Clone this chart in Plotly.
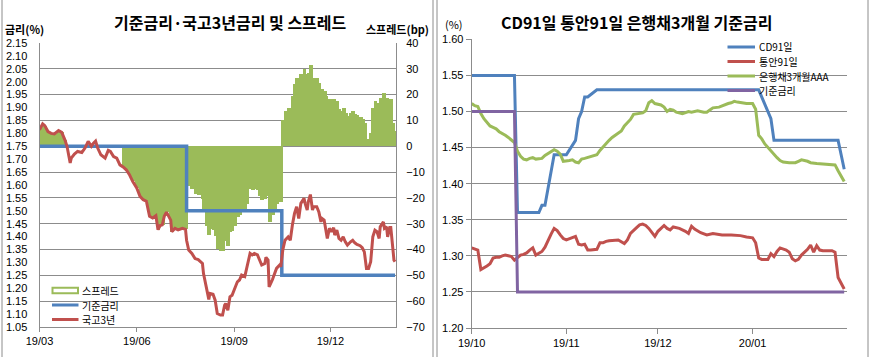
import plotly.graph_objects as go

# ---------------- Left panel data ----------------
ktb_dates = [
    "2019-03-01", "2019-03-04", "2019-03-06", "2019-03-09", "2019-03-12", "2019-03-15", "2019-03-19", "2019-03-22", "2019-03-25", "2019-03-27",
    "2019-03-30", "2019-03-31", "2019-04-03", "2019-04-06", "2019-04-10", "2019-04-13", "2019-04-16", "2019-04-19", "2019-04-21", "2019-04-23",
    "2019-04-25", "2019-04-28", "2019-05-02", "2019-05-05", "2019-05-07", "2019-05-10", "2019-05-13", "2019-05-16", "2019-05-19", "2019-05-22",
    "2019-05-25", "2019-05-28", "2019-06-01", "2019-06-04", "2019-06-07", "2019-06-10", "2019-06-13", "2019-06-16", "2019-06-19", "2019-06-21",
    "2019-06-23", "2019-06-25", "2019-06-27", "2019-06-29", "2019-07-03", "2019-07-04", "2019-07-07", "2019-07-10", "2019-07-14", "2019-07-17",
    "2019-07-18", "2019-07-20", "2019-07-23", "2019-07-26", "2019-07-29", "2019-08-02", "2019-08-03", "2019-08-06", "2019-08-08", "2019-08-09",
    "2019-08-12", "2019-08-14", "2019-08-16", "2019-08-19", "2019-08-21", "2019-08-23", "2019-08-24", "2019-08-26", "2019-08-28", "2019-08-30",
    "2019-09-01", "2019-09-04", "2019-09-06", "2019-09-08", "2019-09-11", "2019-09-13", "2019-09-16", "2019-09-18", "2019-09-20", "2019-09-23",
    "2019-09-25", "2019-09-27", "2019-09-30", "2019-10-01", "2019-10-03", "2019-10-04", "2019-10-07", "2019-10-09", "2019-10-11", "2019-10-14",
    "2019-10-15", "2019-10-17", "2019-10-19", "2019-10-22", "2019-10-24", "2019-10-26", "2019-10-28", "2019-10-30", "2019-11-01", "2019-11-03",
    "2019-11-06", "2019-11-07", "2019-11-09", "2019-11-10", "2019-11-12", "2019-11-14", "2019-11-15", "2019-11-18", "2019-11-20", "2019-11-22",
    "2019-11-23", "2019-11-25", "2019-11-26", "2019-11-28", "2019-11-30", "2019-12-02", "2019-12-04", "2019-12-05", "2019-12-07", "2019-12-09",
    "2019-12-11", "2019-12-13", "2019-12-15", "2019-12-17", "2019-12-20", "2019-12-22", "2019-12-24", "2019-12-26", "2019-12-29", "2019-12-31",
    "2020-01-02", "2020-01-04", "2020-01-06", "2020-01-08", "2020-01-10", "2020-01-12", "2020-01-14", "2020-01-16", "2020-01-17", "2020-01-20",
    "2020-01-21", "2020-01-23", "2020-01-24", "2020-01-26", "2020-01-27", "2020-01-29", "2020-01-30", "2020-01-31",
]
ktb_3y = [
    1.814, 1.837, 1.830, 1.807, 1.800, 1.798, 1.811, 1.804, 1.775, 1.750,
    1.685, 1.704, 1.720, 1.730, 1.726, 1.743, 1.769, 1.750, 1.762, 1.770,
    1.743, 1.717, 1.704, 1.734, 1.730, 1.710, 1.704, 1.678, 1.670, 1.659,
    1.640, 1.614, 1.588, 1.556, 1.543, 1.537, 1.479, 1.472, 1.481, 1.427,
    1.443, 1.446, 1.480, 1.495, 1.464, 1.419, 1.432, 1.426, 1.432, 1.428,
    1.386, 1.348, 1.335, 1.315, 1.311, 1.296, 1.257, 1.193, 1.157, 1.180,
    1.177, 1.154, 1.102, 1.096, 1.096, 1.135, 1.141, 1.115, 1.167, 1.173,
    1.193, 1.225, 1.232, 1.251, 1.245, 1.277, 1.335, 1.329, 1.335, 1.329,
    1.309, 1.290, 1.296, 1.320, 1.309, 1.205, 1.232, 1.257, 1.277, 1.290,
    1.283, 1.350, 1.386, 1.399, 1.386, 1.445, 1.490, 1.516, 1.470, 1.529,
    1.548, 1.529, 1.503, 1.535, 1.563, 1.503, 1.516, 1.516, 1.496, 1.457,
    1.470, 1.464, 1.445, 1.393, 1.432, 1.419, 1.435, 1.406, 1.425, 1.393,
    1.386, 1.399, 1.380, 1.367, 1.380, 1.386, 1.376, 1.370, 1.365, 1.357,
    1.341, 1.277, 1.277, 1.303, 1.399, 1.425, 1.419, 1.393, 1.438, 1.457,
    1.432, 1.438, 1.399, 1.435, 1.435, 1.341, 1.309, 1.303,
]
spread_bp = [
    6.4, 8.7, 8.0, 5.7, 5.0, 4.8, 6.1, 5.4, 2.5, 0.0,
    None, None, None, None, None, None, None, None, None, None,
    None, None, None, None, None, None, None, None, -8.0, -9.1,
    -11.0, -13.6, -16.2, -19.4, -20.7, -21.3, -27.1, -27.8, -26.9, -32.3,
    -30.7, -30.4, -27.0, -25.5, -28.6, -33.1, -31.8, -32.4, -31.8, -32.2,
    -11.4, -15.2, -16.5, -18.5, -18.9, -20.4, -24.3, -30.7, -34.3, -32.0,
    -32.3, -34.6, -39.8, -40.4, -40.4, -36.5, -35.9, -38.5, -33.3, -32.7,
    -30.7, -27.5, -26.8, -24.9, -25.5, -22.3, -16.5, -17.1, -16.5, -17.1,
    -19.1, -21.0, -20.4, -18.0, -19.1, -29.5, -26.8, -24.3, -22.3, -21.0,
    -21.7, 10.0, 13.6, 14.9, 13.6, 19.5, 24.0, 26.6, 22.0, 27.9,
    29.8, 27.9, 25.3, 28.5, 31.3, 25.3, 26.6, 26.6, 24.6, 20.7,
    22.0, 21.4, 19.5, 14.3, 18.2, 16.9, 18.5, 15.6, 17.5, 14.3,
    13.6, 14.9, 13.0, 11.7, 13.0, 13.6, 12.6, 12.0, 11.5, 10.7,
    9.1, 2.7, 2.7, 5.3, 14.9, 17.5, 16.9, 14.3, 18.8, 20.7,
    18.2, 18.8, 14.9, 18.5, 18.5, 9.1, 5.9, 5.3,
]
base_dates_l = ["2019-03-01", "2019-07-18", "2019-10-16", "2020-01-31"]
base_rate_l = [1.75, 1.50, 1.25, 1.25]
left_legend = ["스프레드", "기준금리", "국고3년"]

# ---------------- Right panel data ----------------
cd_dates = ["2019-10-01", "2019-10-15", "2019-10-16", "2019-10-23", "2019-10-24", "2019-10-25", "2019-10-28",
            "2019-11-01", "2019-11-04", "2019-11-05", "2019-11-06", "2019-11-07", "2019-11-08", "2019-11-11",
            "2020-01-03", "2020-01-06", "2020-01-07", "2020-01-08", "2020-01-29", "2020-01-30", "2020-01-31"]
cd91 = [1.55, 1.55, 1.36, 1.36, 1.37, 1.37, 1.44,
        1.44, 1.46, 1.49, 1.50, 1.52, 1.52, 1.53,
        1.53, 1.50, 1.49, 1.46, 1.46, 1.44, 1.42]

msb_dates = [
    "2019-10-01", "2019-10-02", "2019-10-03", "2019-10-04", "2019-10-05", "2019-10-06", "2019-10-07", "2019-10-08", "2019-10-09", "2019-10-10",
    "2019-10-11", "2019-10-12", "2019-10-13", "2019-10-14", "2019-10-15", "2019-10-16", "2019-10-17", "2019-10-18", "2019-10-19", "2019-10-20",
    "2019-10-21", "2019-10-22", "2019-10-23", "2019-10-24", "2019-10-25", "2019-10-26", "2019-10-27", "2019-10-28", "2019-10-29", "2019-10-30",
    "2019-10-31", "2019-11-01", "2019-11-02", "2019-11-03", "2019-11-04", "2019-11-05", "2019-11-06", "2019-11-07", "2019-11-08", "2019-11-09",
    "2019-11-10", "2019-11-11", "2019-11-12", "2019-11-13", "2019-11-14", "2019-11-15", "2019-11-18", "2019-11-19", "2019-11-20", "2019-11-21",
    "2019-11-22", "2019-11-24", "2019-11-25", "2019-11-26", "2019-11-27", "2019-11-28", "2019-11-29", "2019-11-30", "2019-12-01", "2019-12-02",
    "2019-12-03", "2019-12-04", "2019-12-05", "2019-12-06", "2019-12-08", "2019-12-10", "2019-12-11", "2019-12-12", "2019-12-13", "2019-12-15",
    "2019-12-17", "2019-12-19", "2019-12-22", "2019-12-25", "2019-12-28", "2019-12-30", "2020-01-01", "2020-01-02", "2020-01-03", "2020-01-04",
    "2020-01-06", "2020-01-07", "2020-01-08", "2020-01-09", "2020-01-10", "2020-01-12", "2020-01-13", "2020-01-14", "2020-01-15", "2020-01-16",
    "2020-01-17", "2020-01-19", "2020-01-20", "2020-01-21", "2020-01-22", "2020-01-23", "2020-01-24", "2020-01-27", "2020-01-28", "2020-01-29",
    "2020-01-30", "2020-01-31",
]
msb91 = [
    1.311, 1.310, 1.308, 1.281, 1.283, 1.286, 1.289, 1.297, 1.298, 1.298,
    1.300, 1.301, 1.300, 1.299, 1.294, 1.298, 1.301, 1.302, 1.304, 1.308,
    1.311, 1.301, 1.303, 1.306, 1.312, 1.322, 1.330, 1.338, 1.335, 1.329,
    1.324, 1.322, 1.324, 1.325, 1.327, 1.316, 1.315, 1.316, 1.308, 1.308,
    1.308, 1.309, 1.318, 1.318, 1.320, 1.321, 1.322, 1.320, 1.317, 1.322,
    1.331, 1.339, 1.343, 1.344, 1.342, 1.338, 1.332, 1.327, 1.334, 1.338,
    1.342, 1.338, 1.336, 1.340, 1.338, 1.334, 1.331, 1.341, 1.337, 1.332,
    1.329, 1.331, 1.329, 1.329, 1.328, 1.326, 1.325, 1.318, 1.297, 1.295,
    1.295, 1.303, 1.299, 1.306, 1.311, 1.308, 1.305, 1.296, 1.293, 1.295,
    1.301, 1.309, 1.315, 1.305, 1.314, 1.308, 1.307, 1.307, 1.305, 1.270,
    1.262, 1.254,
]

bank_dates = [
    "2019-10-01", "2019-10-02", "2019-10-03", "2019-10-04", "2019-10-05", "2019-10-06", "2019-10-07", "2019-10-08", "2019-10-09", "2019-10-10",
    "2019-10-11", "2019-10-12", "2019-10-13", "2019-10-14", "2019-10-15", "2019-10-16", "2019-10-17", "2019-10-18", "2019-10-19", "2019-10-20",
    "2019-10-21", "2019-10-22", "2019-10-23", "2019-10-24", "2019-10-25", "2019-10-26", "2019-10-27", "2019-10-28", "2019-10-29", "2019-10-30",
    "2019-10-31", "2019-11-01", "2019-11-02", "2019-11-03", "2019-11-04", "2019-11-05", "2019-11-06", "2019-11-07", "2019-11-08", "2019-11-09",
    "2019-11-10", "2019-11-11", "2019-11-12", "2019-11-13", "2019-11-14", "2019-11-15", "2019-11-16", "2019-11-17", "2019-11-18", "2019-11-19",
    "2019-11-20", "2019-11-21", "2019-11-22", "2019-11-23", "2019-11-25", "2019-11-26", "2019-11-27", "2019-11-28", "2019-11-29", "2019-11-30",
    "2019-12-02", "2019-12-03", "2019-12-04", "2019-12-05", "2019-12-06", "2019-12-07", "2019-12-09", "2019-12-10", "2019-12-11", "2019-12-12",
    "2019-12-14", "2019-12-16", "2019-12-17", "2019-12-18", "2019-12-19", "2019-12-21", "2019-12-22", "2019-12-24", "2019-12-25", "2019-12-26",
    "2019-12-27", "2019-12-28", "2019-12-30", "2020-01-01", "2020-01-02", "2020-01-03", "2020-01-04", "2020-01-05", "2020-01-06", "2020-01-07",
    "2020-01-08", "2020-01-09", "2020-01-10", "2020-01-11", "2020-01-13", "2020-01-15", "2020-01-16", "2020-01-17", "2020-01-19", "2020-01-20",
    "2020-01-22", "2020-01-24", "2020-01-26", "2020-01-28", "2020-01-29", "2020-01-30", "2020-01-31",
]
bank3m_aaa = [
    1.511, 1.508, 1.507, 1.497, 1.490, 1.485, 1.480, 1.478, 1.476, 1.472,
    1.470, 1.467, 1.464, 1.461, 1.457, 1.445, 1.438, 1.434, 1.433, 1.435,
    1.436, 1.434, 1.434, 1.435, 1.439, 1.442, 1.445, 1.447, 1.445, 1.441,
    1.431, 1.431, 1.432, 1.433, 1.430, 1.429, 1.434, 1.435, 1.436, 1.437,
    1.439, 1.440, 1.446, 1.451, 1.456, 1.460, 1.464, 1.467, 1.470, 1.473,
    1.480, 1.485, 1.489, 1.496, 1.498, 1.498, 1.501, 1.512, 1.515, 1.511,
    1.509, 1.506, 1.500, 1.503, 1.502, 1.499, 1.497, 1.499, 1.500, 1.499,
    1.501, 1.499, 1.499, 1.502, 1.505, 1.506, 1.508, 1.511, 1.512, 1.514,
    1.513, 1.512, 1.511, 1.511, 1.503, 1.467, 1.462, 1.455, 1.450, 1.445,
    1.440, 1.436, 1.432, 1.430, 1.429, 1.429, 1.431, 1.433, 1.431, 1.429,
    1.428, 1.427, 1.427, 1.426, 1.418, 1.410, 1.403,
]
base_dates_r = ["2019-10-01", "2019-10-15", "2019-10-16", "2020-01-31"]
base_rate_r = [1.50, 1.50, 1.25, 1.25]
right_legend = ["CD91일", "통안91일", "은행채3개월AAA", "기준금리"]

# ---------------- Styling ----------------
W, H = 870, 357
BLUE, RED, GREEN, PURPLE = "#4F81BD", "#C0504D", "#9BBB59", "#8064A2"
GRID = "#8C8C8C"
TICKFONT = dict(family="Liberation Sans, Noto Sans CJK KR, sans-serif", size=11, color="#000000")
KFONT = "Noto Sans CJK KR, Liberation Sans, sans-serif"
DAY_MS = 86400000


def px(x):
    return x / W


def py(y):
    return 1 - y / H


fig = go.Figure()

# Left panel: spread bars (primary y = spread axis on the right), rates on overlaying axis
fig.add_trace(go.Bar(
    x=ktb_dates, y=spread_bp, name=left_legend[0], xaxis="x", yaxis="y",
    marker=dict(color=GREEN, line=dict(width=0)), width=3.6 * DAY_MS,
    showlegend=False,
))
fig.add_trace(go.Scatter(
    x=base_dates_l, y=base_rate_l, name=left_legend[1], xaxis="x", yaxis="y2",
    mode="lines", line=dict(color=BLUE, width=3.5, shape="hv"), showlegend=False,
))
fig.add_trace(go.Scatter(
    x=ktb_dates, y=ktb_3y, name=left_legend[2], xaxis="x", yaxis="y2",
    mode="lines", line=dict(color=RED, width=3), showlegend=False,
))

# Right panel
for xs, ys, col, lab in ((cd_dates, cd91, BLUE, right_legend[0]),
                         (msb_dates, msb91, RED, right_legend[1]),
                         (bank_dates, bank3m_aaa, GREEN, right_legend[2]),
                         (base_dates_r, base_rate_r, PURPLE, right_legend[3])):
    fig.add_trace(go.Scatter(x=xs, y=ys, name=lab, xaxis="x2", yaxis="y3",
                             mode="lines", line=dict(color=col, width=3), showlegend=False))

L_DOM_X = [px(39.5), px(396)]
L_DOM_Y = [py(327), py(43)]
R_DOM_X = [px(471.7), px(847)]
R_DOM_Y = [py(328), py(39.3)]

fig.update_layout(
    width=W, height=H, autosize=False,
    margin=dict(l=0, r=0, t=0, b=0, autoexpand=False),
    paper_bgcolor="white", plot_bgcolor="rgba(0,0,0,0)",
    bargap=0, barmode="overlay",
    xaxis=dict(
        domain=L_DOM_X, anchor="y", type="date", automargin=False,
        range=["2019-03-01", "2020-01-31 22:00"], tick0="2019-03-01", dtick="M3",
        tickformat="%y/%m", showgrid=False, zeroline=False,
        showline=True, linecolor=GRID, linewidth=1, mirror=False,
        ticks="outside", ticklen=4, tickcolor=GRID, tickfont=TICKFONT,
    ),
    yaxis=dict(
        domain=L_DOM_Y, anchor="x", side="right", range=[-70, 40], dtick=10,
        showgrid=True, gridcolor=GRID, gridwidth=1, zeroline=False, automargin=False,
        showline=True, linecolor=GRID, linewidth=1, ticks="",
        ticklabelstandoff=7, tickfont=TICKFONT,
    ),
    yaxis2=dict(
        overlaying="y", anchor="x", side="left", range=[1.05, 2.15], dtick=0.05,
        tickformat=".2f", showgrid=False, zeroline=False, automargin=False,
        showline=True, linecolor=GRID, linewidth=1, ticks="",
        ticklabelstandoff=9, tickfont=TICKFONT,
    ),
    xaxis2=dict(
        domain=R_DOM_X, anchor="y3", type="date", automargin=False,
        range=["2019-10-01", "2020-01-31 22:00"], tick0="2019-10-01", dtick="M1",
        tickformat="%y/%m", showgrid=False, zeroline=False,
        showline=True, linecolor=GRID, linewidth=1,
        ticks="outside", ticklen=5, tickcolor=GRID, tickfont=TICKFONT,
    ),
    yaxis3=dict(
        domain=R_DOM_Y, anchor="x2", range=[1.20, 1.60], dtick=0.05, automargin=False,
        tickformat=".2f", showgrid=True, gridcolor=GRID, gridwidth=1, zeroline=False,
        showline=True, linecolor=GRID, linewidth=1,
        ticks="outside", ticklen=5, tickcolor=GRID, tickfont=TICKFONT,
    ),
)

shapes = []
annotations = []

# panel borders
for xb in (2, 433, 437, 868):
    shapes.append(dict(type="line", xref="paper", yref="paper",
                       x0=px(xb), x1=px(xb), y0=0, y1=1,
                       line=dict(color="#8C8C8C", width=1)))


def text(x, y, s, size=11, bold=False, anchor="left", yanchor="middle", family=KFONT):
    annotations.append(dict(
        xref="paper", yref="paper", x=px(x), y=py(y), text=("<b>%s</b>" % s) if bold else s,
        showarrow=False, xanchor=anchor, yanchor=yanchor, align="left",
        font=dict(family=family, size=size, color="#000000"),
    ))


# titles
text(230, 22, "기준금리·국고3년금리 및 스프레드", size=16, bold=True, anchor="center")
text(24, 29, "금리(%)", size=11, bold=True, anchor="center")
text(397, 29, "스프레드(bp)", size=11, bold=True, anchor="center")
text(636, 22, "CD91일 통안91일 은행채3개월 기준금리", size=16, bold=True, anchor="center")
text(454, 24, "(%)", size=11, anchor="center")

# legends drawn by hand (compact, like the original)
LEG_FS = 10
ROW = 14.5
l_top = 290.5
shapes.append(dict(type="rect", xref="paper", yref="paper",
                   x0=px(52.5), x1=px(78), y0=py(l_top + 2.8), y1=py(l_top - 2.8),
                   fillcolor="white", line=dict(color=GREEN, width=2)))
for i, lab in enumerate(left_legend):
    yy = l_top + i * ROW
    if i > 0:
        shapes.append(dict(type="line", xref="paper", yref="paper",
                           x0=px(52), x1=px(78.5), y0=py(yy), y1=py(yy),
                           line=dict(color=(BLUE, RED)[i - 1], width=3)))
    text(80, yy, lab, size=LEG_FS)

r_top = 47
for i, (col, lab) in enumerate(zip((BLUE, RED, GREEN, PURPLE), right_legend)):
    yy = r_top + i * ROW
    shapes.append(dict(type="line", xref="paper", yref="paper",
                       x0=px(727.5), x1=px(755), y0=py(yy), y1=py(yy),
                       line=dict(color=col, width=3)))
    text(756.5, yy, lab, size=LEG_FS)

fig.update_layout(shapes=shapes, annotations=annotations)

# the page body has a default 8px margin; remove it so the figure fills the window
fig.write_html("out.html",
               config={"displayModeBar": False},
               post_script="document.body.style.margin='0px';document.body.style.overflow='hidden';")
